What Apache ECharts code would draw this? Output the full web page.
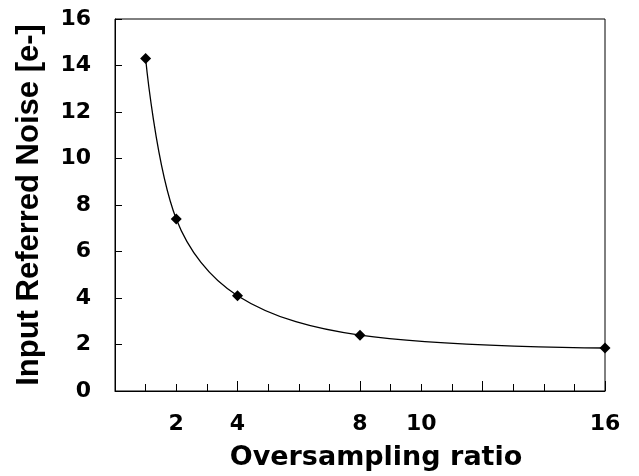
<!DOCTYPE html>
<html>
<head>
<meta charset="utf-8">
<script src="https://cdn.jsdelivr.net/npm/echarts@6/dist/echarts.min.js"></script>
<style>
  html, body { margin: 0; padding: 0; background: #fff; }
  #chart { width: 639px; height: 476px; }
</style>
</head>
<body>
<div id="chart"></div>
<script>
const ratios = [1, 2, 4, 8, 16]
const noise = [14.3, 7.4, 4.1, 2.4, 1.85]
const xLabelValues = [2, 4, 8, 10, 16]

// the original figure is a little wide, DejaVu Bold looks closer than Arial
const wideFont = 'DejaVu Sans, sans-serif'
const font = 'Liberation Sans, Arial, Helvetica, sans-serif'
const chart = echarts.init(document.getElementById('chart'))

chart.setOption({
  animation: false,
  grid: {
    left: 115, right: 34, top: 19, bottom: 85,
    outerBoundsMode: 'none',
    show: true, borderColor: '#000', borderWidth: 1
  },
  xAxis: {
    type: 'value',
    min: 0,
    max: 16,
    interval: 4,
    name: 'Oversampling ratio',
    nameLocation: 'middle',
    nameGap: 53,
    nameMoveOverlap: false,
    nameTextStyle: {
      color: '#000', fontSize: 27, fontWeight: 'bold', fontFamily: wideFont,
      padding: [0, 0, 0, 32]
    },
    axisLine: { lineStyle: { color: '#000', width: 1 } },
    axisTick: { show: true, inside: true, length: 10, lineStyle: { color: '#000' } },
    minorTick: { show: true, splitNumber: 4, length: 7, lineStyle: { color: '#000' } },
    axisLabel: {
      customValues: xLabelValues,
      color: '#000', fontSize: 22, fontWeight: 'bold', fontFamily: wideFont, margin: 22
    },
    splitLine: { show: false }
  },
  yAxis: {
    type: 'value',
    min: 0,
    max: 16,
    interval: 2,
    name: 'Input Referred Noise [e-]',
    nameLocation: 'middle',
    nameGap: 70,
    nameMoveOverlap: false,
    nameTextStyle: { color: '#000', fontSize: 31, fontWeight: 'bold', fontFamily: font },
    axisLine: { lineStyle: { color: '#000', width: 1 } },
    axisTick: { show: true, inside: true, length: 7, lineStyle: { color: '#000' } },
    axisLabel: { color: '#000', fontSize: 22, fontWeight: 'bold', fontFamily: wideFont, margin: 24 },
    splitLine: { show: false }
  },
  series: [{
    type: 'line',
    data: ratios.map((r, i) => [r, noise[i]]),
    smooth: 0.35,
    symbol: 'diamond',
    symbolSize: 11,
    lineStyle: { color: '#000', width: 1.3 },
    itemStyle: { color: '#000' }
  }]
})
</script>
</body>
</html>
